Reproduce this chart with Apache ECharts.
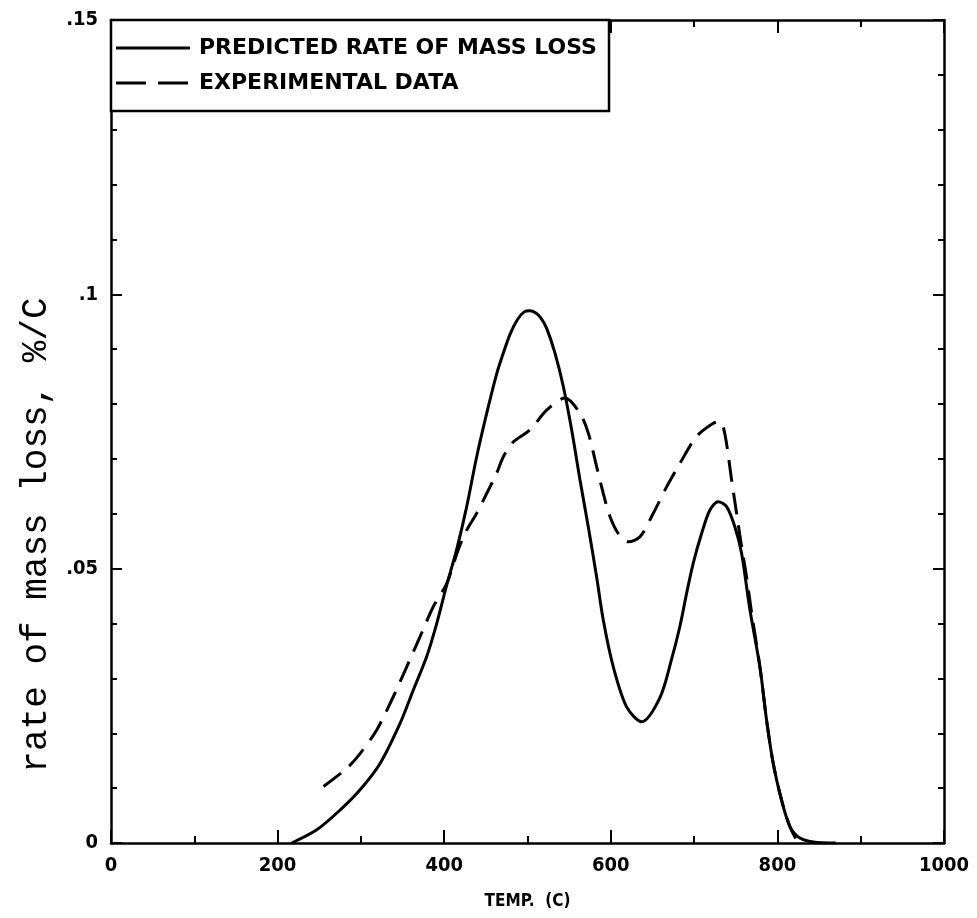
<!DOCTYPE html>
<html>
<head>
<meta charset="utf-8">
<script src="https://cdn.jsdelivr.net/npm/echarts@6/dist/echarts.min.js"></script>
<style>
html,body{margin:0;padding:0;background:#fff;}
#chart{width:977px;height:918px;}
</style>
</head>
<body>
<div id="chart"></div>
<script>
// ---- data ----
var predictedTemp = [217, 247, 275, 299, 323, 347, 363, 379, 391, 403, 415, 427, 439, 451, 463, 471, 479, 488, 496, 503, 510, 516, 523, 533, 543, 553, 563, 573, 583, 591, 603, 619, 637, 659, 673, 683, 691, 699, 709, 719, 729, 739, 749, 757, 767, 779, 787, 795, 805, 815, 827, 843, 870];
var predictedRate = [0, 0.0024, 0.006, 0.0097, 0.0145, 0.0218, 0.0279, 0.034, 0.040, 0.047, 0.0535, 0.0613, 0.0704, 0.0783, 0.0855, 0.0893, 0.0927, 0.0954, 0.0968, 0.0970, 0.0966, 0.0957, 0.0938, 0.0893, 0.0832, 0.0753, 0.0662, 0.0576, 0.0485, 0.0406, 0.0321, 0.0248, 0.0221, 0.0265, 0.0335, 0.0395, 0.0455, 0.051, 0.0564, 0.0607, 0.0622, 0.0613, 0.0576, 0.0528, 0.0425, 0.0321, 0.0224, 0.0145, 0.0078, 0.003, 0.0009, 0.0002, 0];
var experimentalTemp = [255, 283, 299, 319, 339, 355, 371, 387, 403, 417, 427, 439, 451, 463, 471, 483, 503, 523, 545, 563, 573, 583, 591, 599, 609, 621, 635, 651, 667, 683, 703, 723, 731, 737, 745, 751, 757, 763, 769, 779, 787, 795, 805, 815, 822];
var experimentalRate = [0.0103, 0.0136, 0.0163, 0.0206, 0.0267, 0.0321, 0.0376, 0.0431, 0.0473, 0.0535, 0.057, 0.0601, 0.0637, 0.0674, 0.0704, 0.0731, 0.0753, 0.0789, 0.0811, 0.0783, 0.0747, 0.0686, 0.0637, 0.0595, 0.0564, 0.0549, 0.0558, 0.0601, 0.0649, 0.0692, 0.0741, 0.0765, 0.0768, 0.0745, 0.0662, 0.0601, 0.054, 0.0485, 0.042, 0.0321, 0.0224, 0.0145, 0.0078, 0.003, 0.0008];
var yTickValues = [0, 0.05, 0.1, 0.15];
var yTickLabels = ['0', '.05', '.1', '.15'];
var legendNames = ['PREDICTED RATE OF MASS LOSS', 'EXPERIMENTAL DATA'];
var xTitle = 'TEMP.  (C)';
var yTitle = 'rate of mass loss, %/C';

function zip(a, b) { return a.map(function (v, i) { return [v, b[i]]; }); }

var boldFont = '"DejaVu Sans Condensed", "Liberation Sans Narrow", sans-serif';
var legendFont = '"DejaVu Sans", sans-serif';
var chart = echarts.init(document.getElementById('chart'), null, {renderer: 'canvas'});

var G = {left: 111, right: 33, top: 20, bottom: 75};
var tickStyle = {color: '#000', width: 2};

function xAx(grid, pos, interval, len, showLine, labels) {
  return {
    type: 'value', gridIndex: grid, min: 0, max: 1000, interval: interval, position: pos,
    axisLine: {show: showLine, onZero: false, lineStyle: {color: '#000', width: 2.5}},
    splitLine: {show: false},
    axisTick: {show: true, inside: true, length: len, lineStyle: tickStyle},
    axisLabel: labels ? {
      show: true, color: '#000', fontFamily: boldFont, fontWeight: 'bold', fontSize: 20, margin: 13,
      formatter: function (v) { return String(v); }
    } : {show: false}
  };
}
function yAx(grid, pos, interval, len, showLine, labels) {
  return {
    type: 'value', gridIndex: grid, min: 0, max: 0.15, interval: interval, position: pos,
    axisLine: {show: showLine, onZero: false, lineStyle: {color: '#000', width: 2.5}},
    splitLine: {show: false},
    axisTick: {show: true, inside: true, length: len, lineStyle: tickStyle},
    axisLabel: labels ? {
      show: true, color: '#000', fontFamily: boldFont, fontWeight: 'bold', fontSize: 20, margin: 13,
      formatter: function (v) {
        for (var i = 0; i < yTickValues.length; i++) {
          if (Math.abs(v - yTickValues[i]) < 1e-9) return yTickLabels[i];
        }
        return '';
      }
    } : {show: false}
  };
}

var xMain = xAx(0, 'bottom', 200, 13, true, true);
xMain.name = xTitle;
xMain.nameLocation = 'middle';
xMain.nameGap = 50;
xMain.nameTextStyle = {color: '#000', fontFamily: boldFont, fontWeight: 'bold', fontSize: 17};

var option = {
  backgroundColor: '#fff',
  animation: false,
  grid: [
    {left: G.left, right: G.right, top: G.top, bottom: G.bottom, containLabel: false},
    {left: G.left, right: G.right, top: G.top, bottom: G.bottom, containLabel: false}
  ],
  xAxis: [
    xMain,
    xAx(0, 'top', 200, 13, true, false),
    xAx(1, 'bottom', 100, 7, false, false),
    xAx(1, 'top', 100, 7, false, false)
  ],
  yAxis: [
    yAx(0, 'left', 0.05, 11, true, true),
    yAx(0, 'right', 0.05, 11, true, false),
    yAx(1, 'left', 0.01, 6, false, false),
    yAx(1, 'right', 0.01, 6, false, false)
  ],
  series: [
    {
      name: legendNames[0], type: 'line', xAxisIndex: 0, yAxisIndex: 0,
      data: zip(predictedTemp, predictedRate), showSymbol: false, smooth: 0.3,
      lineStyle: {color: '#000', width: 3}
    },
    {
      name: legendNames[1], type: 'line', xAxisIndex: 0, yAxisIndex: 0,
      data: zip(experimentalTemp, experimentalRate), showSymbol: false, smooth: 0.3,
      lineStyle: {color: '#000', width: 3, type: [22, 11]}
    }
  ],
  graphic: [
    {type: 'rect', shape: {x: 111, y: 20, width: 498, height: 91}, style: {fill: '#fff', stroke: '#000', lineWidth: 2.5}, z: 10},
    {type: 'line', shape: {x1: 116, y1: 48, x2: 190, y2: 48}, style: {stroke: '#000', lineWidth: 3}, z: 11},
    {type: 'line', shape: {x1: 116, y1: 83, x2: 190, y2: 83}, style: {stroke: '#000', lineWidth: 3, lineDash: [30, 12]}, z: 11},
    {type: 'text', x: 199, y: 48, z: 11, style: {text: legendNames[0], fill: '#000', font: 'bold 22px ' + legendFont, textVerticalAlign: 'middle', textAlign: 'left'}},
    {type: 'text', x: 199, y: 83, z: 11, style: {text: legendNames[1], fill: '#000', font: 'bold 22px ' + legendFont, textVerticalAlign: 'middle', textAlign: 'left'}},
    {type: 'text', x: 36, y: 535, rotation: Math.PI / 2, z: 11, style: {text: yTitle, fill: '#000', font: '36px "Liberation Mono", "DejaVu Sans Mono", monospace', textAlign: 'center', textVerticalAlign: 'middle'}}
  ]
};
chart.setOption(option);
</script>
</body>
</html>
